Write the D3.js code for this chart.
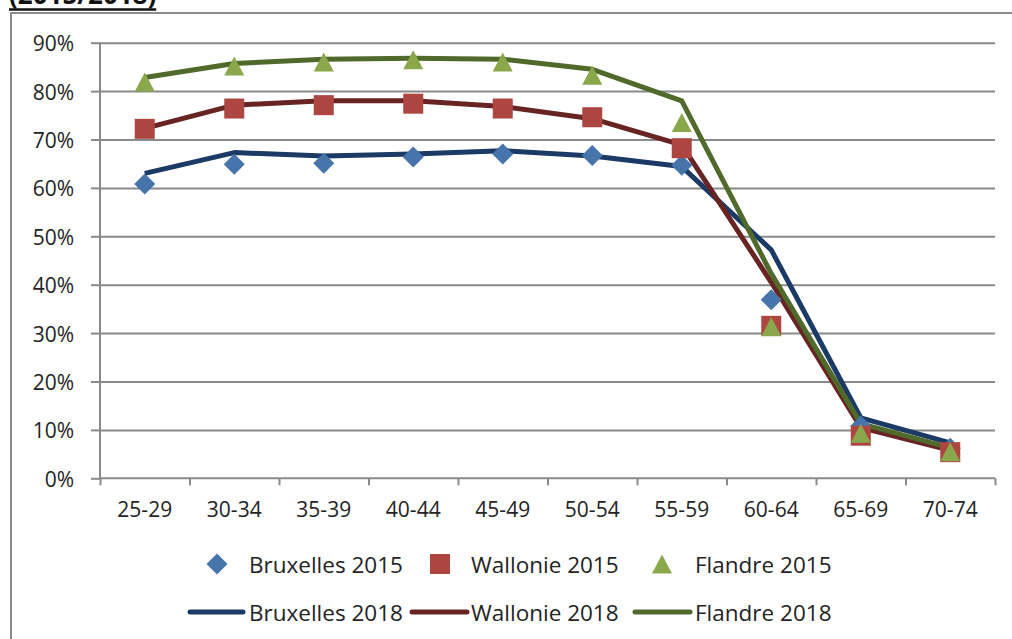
<!DOCTYPE html>
<html><head><meta charset="utf-8">
<script src="https://cdn.jsdelivr.net/npm/d3@7"></script>
<style>
html,body{margin:0;padding:0;background:#fff;overflow:hidden;}
svg{display:block;font-family:"Open Sans",sans-serif;}
</style></head>
<body>
<svg id="chart" width="1012" height="639"></svg>
<script>
const categories = ["25-29","30-34","35-39","40-44","45-49","50-54","55-59","60-64","65-69","70-74"];
const yTicks = [0,10,20,30,40,50,60,70,80,90];
const bruxelles2015 = [60.8, 64.9, 65.1, 66.4, 67.0, 66.7, 64.7, 36.9, 10.8, 6.2];
const wallonie2015  = [72.2, 76.4, 77.1, 77.4, 76.4, 74.6, 68.2, 31.5, 8.8, 5.4];
const flandre2015   = [81.9, 85.2, 86.0, 86.5, 86.0, 83.3, 73.5, 31.3, 9.3, 5.5];
const bruxelles2018 = [63.0, 67.3, 66.6, 67.0, 67.7, 66.6, 64.4, 47.2, 12.5, 7.3];
const wallonie2018  = [72.3, 77.1, 78.0, 78.0, 76.8, 74.3, 68.9, 40.5, 10.5, 5.8];
const flandre2018   = [82.8, 85.7, 86.6, 86.8, 86.6, 84.5, 78.0, 42.3, 11.3, 6.3];

const markerSeries = [
  {name:"Bruxelles 2015", values:bruxelles2015, shape:"diamond", color:"#4674ab"},
  {name:"Wallonie 2015",  values:wallonie2015,  shape:"square",  color:"#ad4541"},
  {name:"Flandre 2015",   values:flandre2015,   shape:"triangle",color:"#8aa84b"}
];
const lineSeries = [
  {name:"Bruxelles 2018", values:bruxelles2018, color:"#1b3a66"},
  {name:"Wallonie 2018",  values:wallonie2018,  color:"#672423"},
  {name:"Flandre 2018",   values:flandre2018,   color:"#4f6a2a"}
];

const svg = d3.select("#chart");
const gridColor = "#8a8a8a";
const textColor = "#242424";
const L = 100, R = 995, T = 42.7, B = 478.3;

// Clipped heading
const title = svg.append("text").attr("x", 9).attr("y", 4)
  .attr("font-size", 26).attr("font-weight", "bold").attr("fill", "#111")
  .text("(2015/2018)");
const tw = title.node().getComputedTextLength();
svg.append("line").attr("x1", 9).attr("x2", 9 + tw).attr("y1", 9.5).attr("y2", 9.5)
  .attr("stroke", "#111").attr("stroke-width", 2.5);

// Frame
svg.append("path").attr("d", "M11,639 L11,13 L1012,13")
  .attr("fill", "none").attr("stroke", "#8c8c8c").attr("stroke-width", 2);

const x = d3.scaleBand().domain(categories).range([L, R]).padding(0);
const xb = d3.scaleLinear().domain([0, categories.length]).range([L, R]);
const y = d3.scaleLinear().domain([0, 90]).range([B, T]);
const cx = d => x(d) + x.bandwidth() / 2;

// Gridlines
const grid = svg.append("g").attr("transform", `translate(${L},0)`)
  .call(d3.axisLeft(y).tickValues(yTicks.filter(v => v > 0)).tickSize(-(R - L)).tickFormat(""));
grid.select(".domain").remove();
grid.selectAll("line").attr("stroke", gridColor).attr("stroke-width", 2);

// Y axis
const ya = svg.append("g").attr("transform", `translate(${L},0)`)
  .call(d3.axisLeft(y).tickValues(yTicks).tickSize(9).tickPadding(0).tickFormat(d => d + "%"));
ya.select(".domain").attr("stroke", gridColor).attr("stroke-width", 2).attr("d", `M0,${T}V${B}`);
ya.selectAll("line").attr("stroke", gridColor).attr("stroke-width", 2);
ya.selectAll("text").attr("x", -26).attr("dy", null).attr("dominant-baseline", "central")
  .attr("font-size", 21).attr("fill", textColor).attr("font-family", "Open Sans");

// X axis (boundary ticks)
const xa = svg.append("g").attr("transform", `translate(0,${B})`)
  .call(d3.axisBottom(xb).tickValues(d3.range(0, categories.length + 1)).tickSize(7).tickFormat(""));
xa.select(".domain").attr("stroke", gridColor).attr("stroke-width", 2).attr("d", `M${L},0H${R}`);
xa.selectAll("line").attr("stroke", gridColor).attr("stroke-width", 2);
// X labels
const xl = svg.append("g").attr("transform", `translate(0,${B})`)
  .call(d3.axisBottom(x).tickSize(0).tickPadding(0));
xl.select(".domain").remove();
xl.selectAll("text").attr("y", 39).attr("dy", null).attr("font-size", 21)
  .attr("fill", textColor).attr("font-family", "Open Sans");

// Lines 2018
const line = d3.line().x((d, i) => cx(categories[i])).y(d => y(d));
lineSeries.forEach(s => {
  svg.append("path").datum(s.values).attr("d", line)
    .attr("fill", "none").attr("stroke", s.color).attr("stroke-width", 5)
    .attr("stroke-linejoin", "round");
});

// Markers 2015
const symType = {diamond: d3.symbolDiamond, square: d3.symbolSquare, triangle: d3.symbolTriangle};
const symSize = {diamond: 230, square: 380, triangle: 230};
function drawMarker(g, shape, color, px, py) {
  if (shape === "diamond") {
    g.append("path").attr("d", `M${px},${py-10.5}L${px+10.5},${py}L${px},${py+10.5}L${px-10.5},${py}Z`)
      .attr("fill", color);
  } else if (shape === "square") {
    g.append("rect").attr("x", px - 10).attr("y", py - 10).attr("width", 20).attr("height", 20)
      .attr("fill", color);
  } else {
    g.append("path").attr("d", `M${px},${py-9.5}L${px+10},${py+9.5}L${px-10},${py+9.5}Z`)
      .attr("fill", color);
  }
}
markerSeries.forEach(s => {
  const g = svg.append("g");
  s.values.forEach((v, i) => drawMarker(g, s.shape, s.color, cx(categories[i]), y(v)));
});

// Legend
const leg = svg.append("g").attr("font-size", 22.5).attr("fill", textColor);
const row1 = 564, row2 = 612;
const mPos = [217, 440, 662];
const mText = [249, 471, 695];
markerSeries.forEach((s, i) => {
  drawMarker(leg, s.shape, s.color, mPos[i], row1);
  leg.append("text").attr("x", mText[i]).attr("y", row1).attr("dominant-baseline", "central")
    .attr("fill", textColor).text(s.name);
});
const lPos = [[190, 243], [412, 467], [635, 690]];
lineSeries.forEach((s, i) => {
  leg.append("line").attr("x1", lPos[i][0]).attr("x2", lPos[i][1]).attr("y1", row2).attr("y2", row2)
    .attr("stroke", s.color).attr("stroke-width", 5).attr("stroke-linecap", "round");
  leg.append("text").attr("x", mText[i]).attr("y", row2).attr("dominant-baseline", "central")
    .attr("fill", textColor).text(s.name);
});
</script>
</body></html>
